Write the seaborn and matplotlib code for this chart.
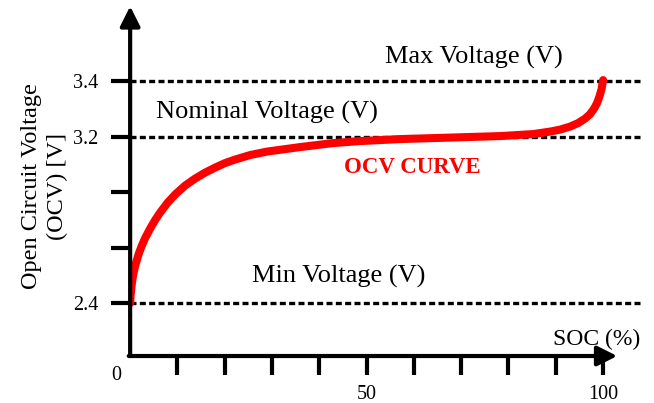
import matplotlib
matplotlib.use('Agg')
import matplotlib.pyplot as plt
import seaborn as sns
import pandas as pd

# Schematic OCV curve: SOC (%) vs voltage level (tick index on the y axis)
soc = [0, 0.106, 0.317, 0.634, 0.909, 1.268, 1.797, 2.474, 3.171, 4.228, 5.285,
       6.342, 8.034, 9.725, 11.63, 13.74, 15.86, 17.97, 20.08, 22.2, 25.37,
       28.96, 35.94, 42.92, 48.63, 57.08, 67.65, 78.22, 85.2, 88.79, 90.91,
       93.02, 94.71, 96.19, 97.25, 98.10, 98.73, 99.26, 99.68, 100.0]
ocv_level = [1.0, 1.144, 1.324, 1.505, 1.613, 1.730, 1.883, 2.036, 2.171, 2.342,
             2.495, 2.631, 2.820, 2.973, 3.117, 3.243, 3.351, 3.441, 3.523, 3.586,
             3.667, 3.730, 3.811, 3.883, 3.919, 3.955, 3.982, 4.009, 4.045, 4.090,
             4.126, 4.180, 4.243, 4.324, 4.405, 4.505, 4.604, 4.730, 4.856, 5.018]

ytick_pos = [1, 2, 3, 4, 5]
ytick_labels = ['2.4', '', '', '3.2', '3.4']
xtick_pos = [10, 20, 30, 40, 50, 60, 70, 80, 90, 100]
xtick_labels = ['', '', '', '', '50', '', '', '', '', '100']

# reference voltage lines and their labels
ref_levels = [1, 4, 5]
ref_labels = ['Min Voltage (V)', 'Nominal Voltage (V)', 'Max Voltage (V)']
ref_label_x = [44.0, 29.0, 72.6]
ref_label_y = [1.36, 4.33, 5.32]

df = pd.DataFrame({'SOC': soc, 'OCV': ocv_level})

sns.set_theme(style='white')
plt.rcParams['font.family'] = ['Liberation Serif', 'DejaVu Serif']
plt.rcParams['text.color'] = 'black'
plt.rcParams['axes.labelcolor'] = 'black'

fig = plt.figure(figsize=(6.54, 4.03), dpi=100)
ax = fig.add_axes([0.199, 0.1166, 0.781, 0.868])

xmin, xmax = 0, 108
ymin, ymax = 0.045, 6.35

# dashed reference lines
for lvl in ref_levels:
    ax.plot([xmin, xmax], [lvl, lvl], color='black', lw=2.4,
            linestyle=(0, (1.8, 1.0)), zorder=2)

sns.lineplot(data=df, x='SOC', y='OCV', ax=ax, color='#ff0000', lw=5.8,
             sort=False, estimator=None, zorder=3,
             solid_capstyle='round', solid_joinstyle='round')

for lab, lx, ly in zip(ref_labels, ref_label_x, ref_label_y):
    ax.text(lx, ly, lab, ha='center', va='baseline', fontsize=19, color='black')

ax.text(59.6, 3.34, 'OCV CURVE', ha='center', va='baseline', fontsize=16.5,
        fontweight='bold', color='#ff0000')
ax.text(107.8, 0.243, 'SOC (%)', ha='right', va='baseline', fontsize=17)
ax.text(-2.9, -0.3, '0', ha='center', va='center', fontsize=14.5)

# axes with arrows
arrow = dict(arrowstyle='-|>,head_length=0.6,head_width=0.3', lw=3,
             color='black', mutation_scale=20, shrinkA=0, shrinkB=0)
ax.annotate('', xy=(0, ymax), xytext=(0, ymin), arrowprops=arrow,
            annotation_clip=False)
ax.annotate('', xy=(103, ymin), xytext=(-0.3, ymin), arrowprops=arrow,
            annotation_clip=False)

ax.set_xlim(xmin, xmax)
ax.set_ylim(ymin, ymax)
for s in ax.spines.values():
    s.set_visible(False)

ax.set_yticks(ytick_pos, ytick_labels)
ax.set_xticks(xtick_pos, xtick_labels)
ax.tick_params(axis='both', direction='out', length=14, width=3,
               color='black', labelsize=14.5, labelcolor='black')
ax.tick_params(axis='y', pad=9)
ax.tick_params(axis='x', pad=7)
ax.tick_params(left=True, bottom=True)

ax.set_xlabel('')
ax.set_ylabel('Open Circuit Voltage\n(OCV) [V]', fontsize=17.5, linespacing=1.35)
ax.yaxis.set_label_coords(-0.121, 0.486)

fig.savefig('out.png', dpi=100)
